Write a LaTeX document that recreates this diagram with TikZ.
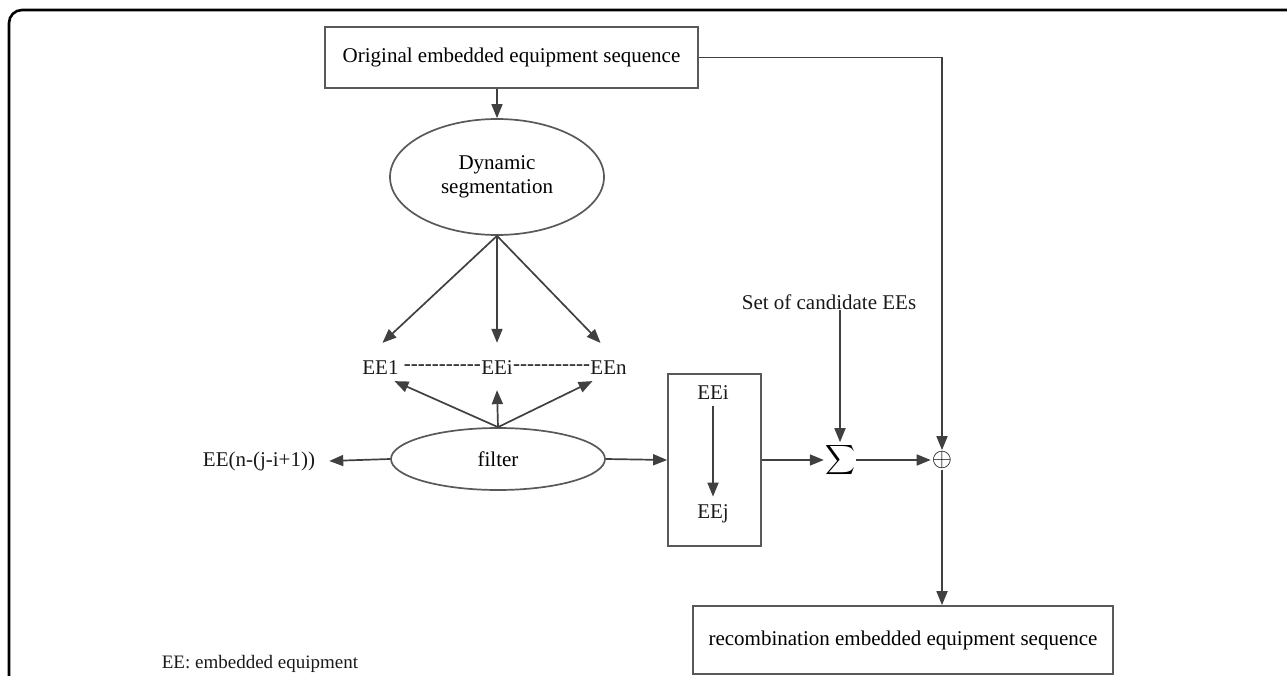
\RequirePackage{fix-cm}
\documentclass[tikz,border=0pt]{standalone}
\usepackage{exscale}
\usepackage{fontspec}
\setmainfont{Liberation Serif}
\usepackage{tikz}
\usetikzlibrary{arrows.meta, shapes.geometric, positioning}
\newcommand{\dashrun}{\foreach \k in {1,...,11}{-\kern0pt}}

\begin{document}
\begin{tikzpicture}[x=1pt, y=-1pt, >={Triangle[length=14pt,width=11pt]},
  font=\fontsize{21}{24}\selectfont,
  conn/.style={->, draw=black!75, line width=1.7pt},
  seqbox/.style={draw=black!65, line width=1.7pt, rectangle, inner sep=0pt},
  oval/.style={draw=black!65, line width=1.7pt, ellipse, inner sep=0pt, align=center},
  lbl/.style={inner sep=0pt, text=black!90}]
  \useasboundingbox (0,0) rectangle (1287,676);
  % outer frame, cut by the page edge
  \draw[line width=2.6pt, rounded corners=13pt] (9,690) -- (9,10) -- (1300,10);

  \node[seqbox, minimum width=373pt, minimum height=61pt] (orig) at (511.5,57.5) {Original embedded equipment sequence};
  \node[oval, minimum width=214pt, minimum height=116pt] (dyn) at (497,177) {Dynamic\\segmentation};
  \draw[conn] (orig.south -| dyn.north) -- (dyn.north);

  % segments EE1 ... EEn
  \node[lbl] (eei) at (497,368) {EEi};
  \node[lbl, left=0pt of eei] (dl) {\dashrun};
  \node[lbl, left=5pt of dl] (ee1) {EE1};
  \node[lbl, right=0pt of eei] (dr) {\dashrun};
  \node[lbl, right=0pt of dr] (een) {EEn};
  \draw[conn] (dyn.south) -- ([xshift=2pt,yshift=18pt]ee1.north);
  \draw[conn] (dyn.south) -- ([yshift=18pt]eei.north);
  \draw[conn] (dyn.south) -- ([xshift=-8pt,yshift=18pt]een.north);

  % filter
  \node[oval, minimum width=214pt, minimum height=62pt] (filt) at (498,459) {filter};
  \draw[conn] (filt.north) -- ([xshift=14pt,yshift=-6pt]ee1.south);
  \draw[conn] (filt.north) -- ([yshift=-15pt]eei.south);
  \draw[conn] (filt.north) -- ([xshift=-16pt,yshift=-6pt]een.south);
  \node[lbl] (rest) at (259,461) {EE(n-(j-i+1))};
  \draw[conn] (filt.west) -- ([xshift=14pt]rest.east);

  % kept segment EEi -> EEj
  \node[seqbox, minimum width=93pt, minimum height=172pt] (keep) at (714.5,460) {};
  \node[lbl] (bi) at (713,393) {EEi};
  \node[lbl] (bj) at (713,514) {EEj};
  \draw[conn] ([yshift=-6pt]bi.south) -- ([yshift=8pt]bj.north);
  \draw[conn] (filt.east) -- (keep.west);

  % sum and recombination
  \node[inner sep=1pt] (sig) at (840,460) {$\displaystyle\sum$};
  \node[lbl] (cand) at (829,302) {Set of candidate EEs};
  \draw[conn] (cand.south -| sig.north) -- (sig.north);
  \draw[conn] (keep.east) -- (sig.west);
  \node[inner sep=1pt, font=\fontsize{26}{28}\selectfont] (opl) at (942,460) {$\oplus$};
  \draw[conn] (sig.east) -- (opl.west);
  \draw[conn] (orig.east) -| (opl.north);
  \node[seqbox, minimum width=420pt, minimum height=68pt] (rec) at (903,640) {recombination embedded equipment sequence};
  \draw[conn] (opl.south) -- (opl |- rec.north);

  \node[lbl, font=\fontsize{19}{22}\selectfont] (key) at (260,664) {EE: embedded equipment};
\end{tikzpicture}
\end{document}
